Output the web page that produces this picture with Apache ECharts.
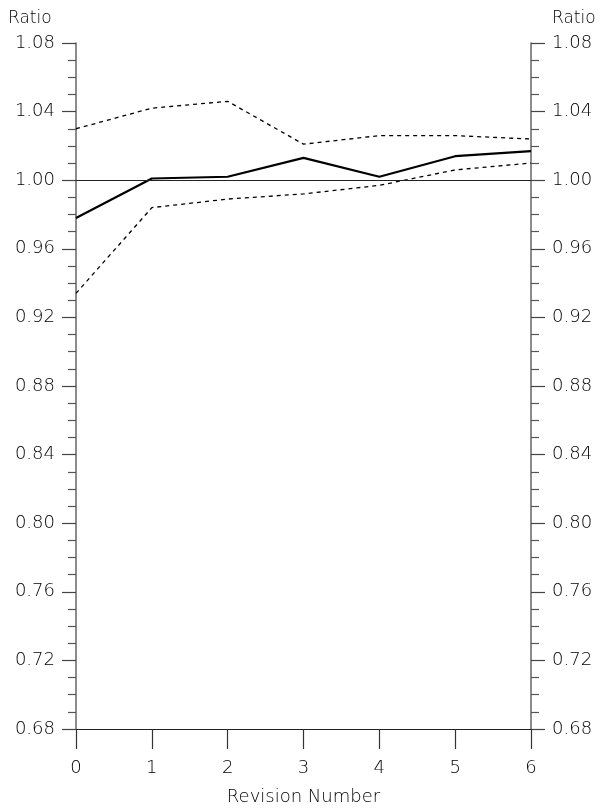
<!DOCTYPE html>
<html>
<head>
<meta charset="utf-8">
<script src="https://cdn.jsdelivr.net/npm/echarts@6/dist/echarts.min.js"></script>
<style>
html,body{margin:0;padding:0;background:#fff;}
#chart{width:599px;height:811px;}
</style>
</head>
<body>
<div id="chart"></div>
<script>
var revisions = [0, 1, 2, 3, 4, 5, 6];
var ratio = [0.978, 1.001, 1.002, 1.013, 1.002, 1.014, 1.017];
var upperBound = [1.030, 1.042, 1.046, 1.021, 1.026, 1.026, 1.024];
var lowerBound = [0.934, 0.984, 0.989, 0.992, 0.997, 1.006, 1.010];
var yMin = 0.68, yMax = 1.08, yStep = 0.04;
var xTitle = 'Revision Number';
var yTitle = 'Ratio';

function pairs(vals) { return revisions.map(function (r, i) { return [r, vals[i]]; }); }

var font = 'DejaVu Sans';
var txt = '#000';
var chart = echarts.init(document.getElementById('chart'), null, {renderer: 'canvas'});

function yAxisDef(pos) {
  return {
    type: 'value', position: pos, min: yMin, max: yMax, interval: yStep,
    axisLine: {show: true, lineStyle: {color: '#666', width: 1.5}},
    axisTick: {show: true, inside: false, length: 14, lineStyle: {color: '#444', width: 1.2}},
    minorTick: {show: true, splitNumber: 4, length: 8, lineStyle: {color: '#555', width: 1.2}},
    splitLine: {show: false},
    axisLabel: {margin: 21, fontFamily: font, fontWeight: 200, fontSize: 18, color: txt,
      formatter: function (v) { return v.toFixed(2); }}
  };
}

chart.setOption({
  animation: false,
  backgroundColor: '#fff',
  grid: {left: 76, right: 68, top: 43, bottom: 80, containLabel: false},
  xAxis: {
    type: 'value', min: 0, max: 6, interval: 1,
    name: xTitle, nameLocation: 'middle', nameGap: 59,
    nameTextStyle: {fontFamily: font, fontWeight: 200, fontSize: 18, color: txt},
    axisLine: {show: true, onZero: false, lineStyle: {color: '#222', width: 1.2}},
    axisTick: {show: true, inside: false, length: 20, lineStyle: {color: '#333', width: 1.2}},
    splitLine: {show: false},
    axisLabel: {margin: 30, fontFamily: font, fontWeight: 200, fontSize: 18, color: txt}
  },
  yAxis: [yAxisDef('left'), yAxisDef('right')],
  graphic: [
    {type: 'text', left: 8, top: 10, style: {text: yTitle, font: '200 17px "DejaVu Sans"', fill: txt}},
    {type: 'text', left: 552, top: 10, style: {text: yTitle, font: '200 17px "DejaVu Sans"', fill: txt}}
  ],
  series: [
    {
      type: 'line', data: pairs(ratio), symbol: 'none',
      lineStyle: {color: '#000', width: 2.2, type: 'solid'},
      markLine: {
        silent: true, symbol: 'none', label: {show: false},
        lineStyle: {color: '#222', width: 1.2, type: 'solid'},
        data: [{yAxis: 1.0}]
      }
    },
    {
      type: 'line', data: pairs(upperBound), symbol: 'none',
      lineStyle: {color: '#000', width: 1.3, type: [4, 4]}
    },
    {
      type: 'line', data: pairs(lowerBound), symbol: 'none',
      lineStyle: {color: '#000', width: 1.3, type: [4, 4]}
    }
  ]
});
</script>
</body>
</html>
